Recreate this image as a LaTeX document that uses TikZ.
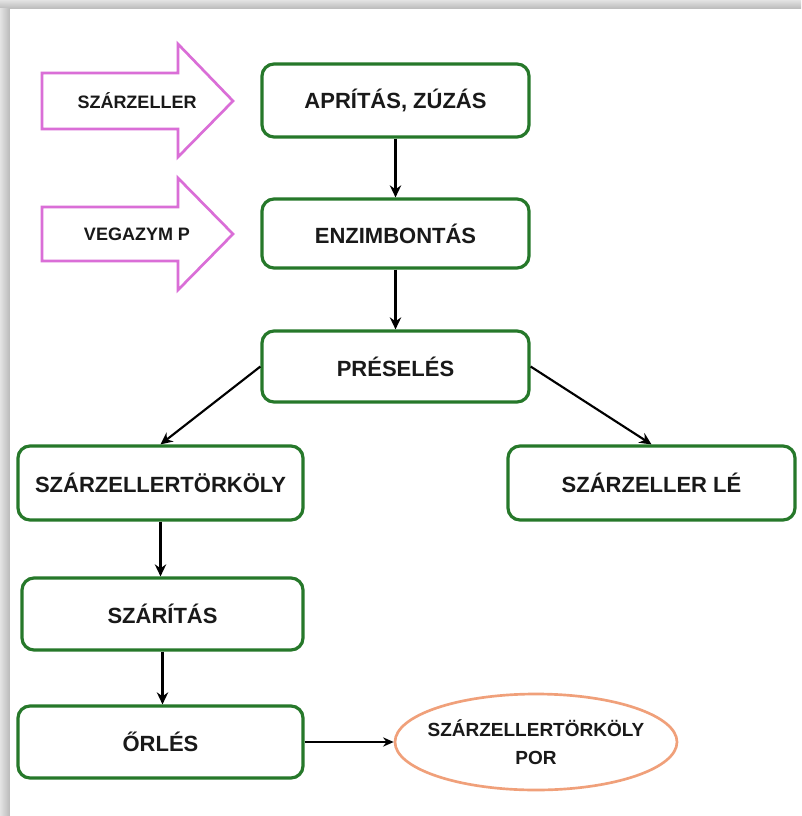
\documentclass[tikz,border=0pt]{standalone}
\usepackage{fontspec}
\setmainfont{Liberation Sans}
\usetikzlibrary{shapes.geometric,arrows.meta}
\definecolor{boxgreen}{RGB}{38,120,42}
\definecolor{pinkarrow}{RGB}{218,110,215}
\definecolor{ellorange}{RGB}{240,160,122}
\definecolor{txt}{RGB}{25,25,25}
\tikzset{
  stepbox/.style={draw=boxgreen, line width=2.4pt, rounded corners=9pt, fill=white,
    minimum width=#1, inner sep=0pt, font=\fontsize{16.5}{19}\selectfont\bfseries, text=txt},
  flow/.style={draw=black, line width=1.6pt, -{Stealth[length=9pt,width=8.5pt]}},
  thinflow/.style={draw=black, line width=1pt, -{Stealth[length=8pt,width=7pt]}},
  inarrow/.style={draw=pinkarrow, line width=2pt, fill=white, line join=miter},
  inlabel/.style={font=\fontsize{13.5}{16}\selectfont\bfseries, text=txt, inner sep=0pt},
}
\begin{document}
\begin{tikzpicture}[x=0.75pt,y=-0.75pt]
\useasboundingbox (0,0) rectangle (801,816);
% page shadow
\fill[gray!45] (0,0) rectangle (801,816);
\shade[top color=gray!22, bottom color=gray!55] (0,0) rectangle (801,9);
\shade[left color=gray!22, right color=gray!55] (0,9) rectangle (10,816);
\fill[white] (10,9) rectangle (801,816);

% input arrows
\draw[inarrow] (42,73) -- (178,73) -- (178,44) -- (233,101) -- (178,157) -- (178,129) -- (42,129) -- cycle;
\node[inlabel] (in1) at (137,101) {SZÁRZELLER};
\draw[inarrow] (42,207) -- (178,207) -- (178,178) -- (233,234) -- (178,290) -- (178,261) -- (42,261) -- cycle;
\node[inlabel] (in2) at (137,234) {VEGAZYM P};

% process boxes
\node[stepbox=200.25pt, minimum height=54.75pt] (a) at (395.5,100.5) {APRÍTÁS, ZÚZÁS};
\node[stepbox=200.25pt, minimum height=51.75pt] (b) at (395.5,233.5) {ENZIMBONTÁS};
\node[stepbox=200.25pt, minimum height=53.25pt] (p) at (395.5,366.5) {PRÉSELÉS};
\node[stepbox=213.75pt, minimum height=55.5pt] (c) at (160.5,483) {SZÁRZELLERTÖRKÖLY};
\node[stepbox=215.25pt, minimum height=55.5pt] (d) at (651.5,483) {SZÁRZELLER LÉ};
\node[stepbox=210.75pt, minimum height=54pt] (e) at (162.5,614) {SZÁRÍTÁS};
\node[stepbox=213.75pt, minimum height=54pt] (f) at (160.5,742) {ŐRLÉS};
\node[ellipse, draw=ellorange, line width=2pt, minimum width=211.5pt, minimum height=72pt,
  inner sep=0pt] (g) at (536,742) {};
\node[align=center, text=txt, inner sep=0pt, font=\fontsize{14.25}{21}\selectfont\bfseries]
  (gt) at (g.center) {SZÁRZELLERTÖRKÖLY\\POR};

% connectors
\draw[flow] (a.south) -- (b.north);
\draw[flow] (b.south) -- (p.north);
\draw[flow] (p.west) -- (c.north);
\draw[flow] (p.east) -- (d.north);
\draw[flow] (c.south) -- (c.south |- e.north);
\draw[flow] (e.south) -- (e.south |- f.north);
\draw[thinflow] (f.east) -- (g.west);
\end{tikzpicture}
\end{document}
